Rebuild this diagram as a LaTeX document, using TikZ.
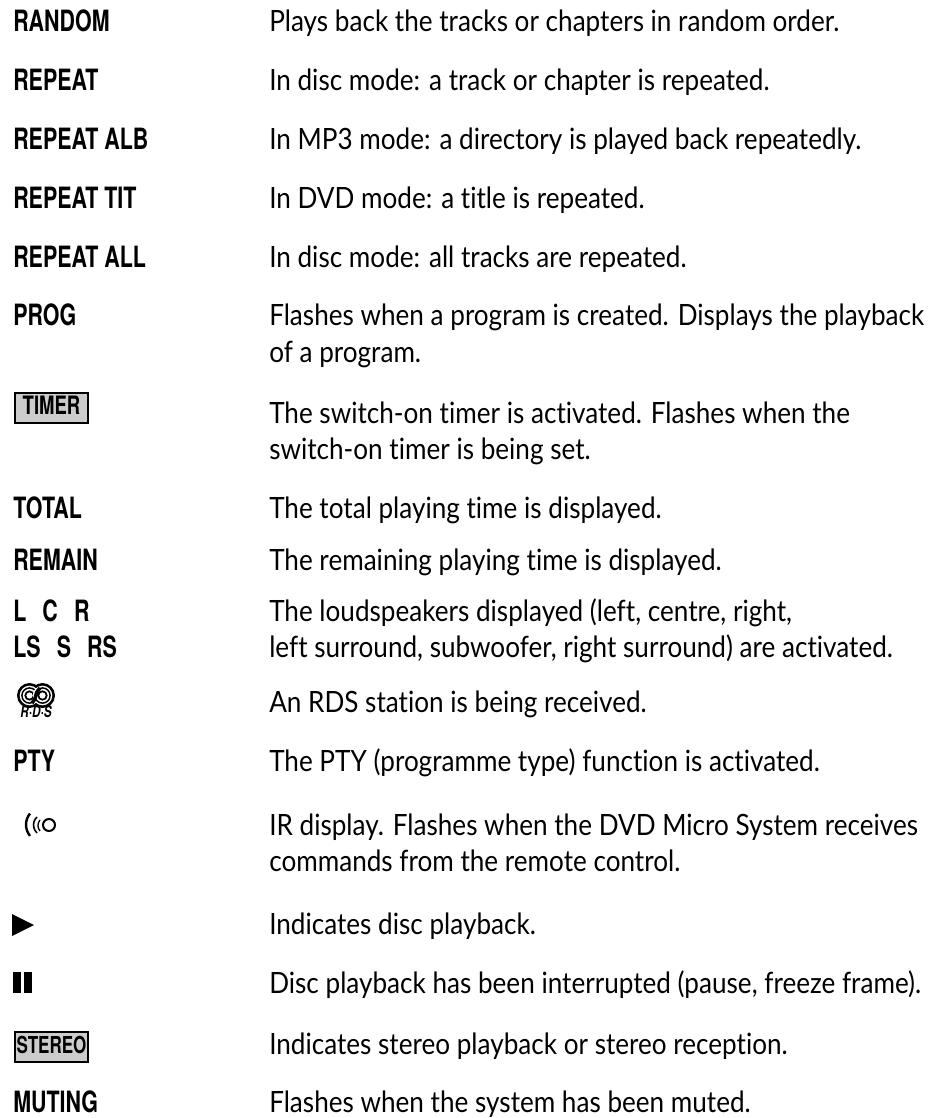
\documentclass[tikz,border=0pt]{standalone}
\usepackage{fontspec}
\setmainfont[Ligatures=NoCommon,FakeStretch=0.89]{Lato}
\newfontfamily\keyfont[FakeStretch=0.73,BoldFont={TeX Gyre Heros Bold}]{TeX Gyre Heros}
\tikzset{
	entry/.style={anchor=base west,inner sep=0pt,align=left,font=\fontsize{22}{27.3}\selectfont},
	keyword/.style={anchor=base west,inner sep=0pt,align=left,font=\keyfont\bfseries\fontsize{22}{27.3}\selectfont},
	lamp/.style={draw=black,line width=0.9pt,fill=black!20,inner sep=0pt,minimum width=54.75pt,text height=15.75pt,text depth=6.75pt,font=\keyfont\bfseries\fontsize{17.5}{18}\selectfont},
}
\begin{document}
\begin{tikzpicture}[x=0.75pt,y=0.75pt,yscale=-1,xscale=1]
	\useasboundingbox (0,0) rectangle (942,1118);

	% Text Node
	\node [keyword] (random) at (13,31.5) {RANDOM};
	\node [keyword] (repeat) at (13,90) {REPEAT};
	\node [keyword] (repeatalb) at (13,149) {REPEAT ALB};
	\node [keyword] (repeattit) at (13,208) {REPEAT TIT};
	\node [keyword] (repeatall) at (13,267) {REPEAT ALL};
	\node [keyword] (prog) at (13,325.5) {PROG};
	\node [keyword] (total) at (13,518) {TOTAL};
	\node [keyword] (remain) at (13,570) {REMAIN};
	\node [keyword] (speakers) at (13,657.5) {L\hspace{0.55em}C\hspace{0.55em}R\\LS\hspace{0.55em}S\hspace{0.55em}RS};
	\node [keyword] (pty) at (13,771) {PTY};
	\node [keyword] (muting) at (13,1112) {MUTING};

	% Text Node
	\node [entry] (randomtext) at (269,31.5) {Plays back the tracks or chapters in random order.};
	\node [entry] (repeattext) at (269,90) {In disc mode: a track or chapter is repeated.};
	\node [entry] (albtext) at (269,149) {In MP3 mode: a directory is played back repeatedly.};
	\node [entry] (tittext) at (269,208) {In DVD mode: a title is repeated.};
	\node [entry] (alltext) at (269,267) {In disc mode: all tracks are repeated.};
	\node [entry] (progtext) at (269,362) {Flashes when a program is created. Displays the playback\\of a program.};
	\node [entry] (timertext) at (269,459.5) {The switch-on timer is activated. Flashes when the\\switch-on timer is being set.};
	\node [entry] (totaltext) at (269,518) {The total playing time is displayed.};
	\node [entry] (remaintext) at (269,570) {The remaining playing time is displayed.};
	\node [entry] (speakertext) at (269,657.5) {The loudspeakers displayed (left, centre, right,\\left surround, subwoofer, right surround) are activated.};
	\node [entry] (rdstext) at (269,712.5) {An RDS station is being received.};
	\node [entry] (ptytext) at (269,771) {The PTY (programme type) function is activated.};
	\node [entry] (irtext) at (269,871.5) {IR display. Flashes when the DVD Micro System receives\\commands from the remote control.};
	\node [entry] (playtext) at (269,934) {Indicates disc playback.};
	\node [entry] (pausetext) at (269,993) {Disc playback has been interrupted (pause, freeze frame).};
	\node [entry] (stereotext) at (269,1054) {Indicates stereo playback or stereo reception.};
	\node [entry] (mutingtext) at (269,1112) {Flashes when the system has been muted.};

	% Boxed lamps
	\node [lamp] (timer) at (51.5,408) {\fontsize{19}{19}\selectfont TIMER};
	\node [lamp] (stereo) at (51.5,1047) {STEREO};

	% RDS logo
	\foreach \cx in {29.5,42.5} \fill (\cx,695.5) circle [radius=12.5];
	\foreach \cx in {29.5,42.5} {
		\fill [white] (\cx,695.5) circle [radius=9.8];
		\draw [line width=1.1pt] (\cx,695.5) circle [radius=7.6];
		\draw [line width=1.3pt] (\cx,695.5) circle [radius=4.2];
	}
	\draw [line width=2.6pt] (32,703) .. controls (36,700) and (36,691) .. (40,688);
	\node [inner sep=0pt,anchor=base,font=\keyfont\bfseries\itshape\fontsize{12}{12}\selectfont] (rds) at (36,717.5) {R·D·S};

	% IR symbol
	\draw [line width=1.5pt] (49,825) circle [radius=6];
	\draw [line width=1pt] (40,820) arc [start angle=220,end angle=140,radius=8.6];
	\draw [line width=1.2pt] (37,817) arc [start angle=227,end angle=133,radius=10.9];
	\draw [line width=1.8pt] (30,813.5) arc [start angle=219,end angle=141,radius=17.8];

	% Play and pause
	\fill (12,914) -- (34,925) -- (12,936) -- cycle;
	\fill (13,972) rectangle (20.5,993);
	\fill (24,972) rectangle (31.5,993);
\end{tikzpicture}
\end{document}
